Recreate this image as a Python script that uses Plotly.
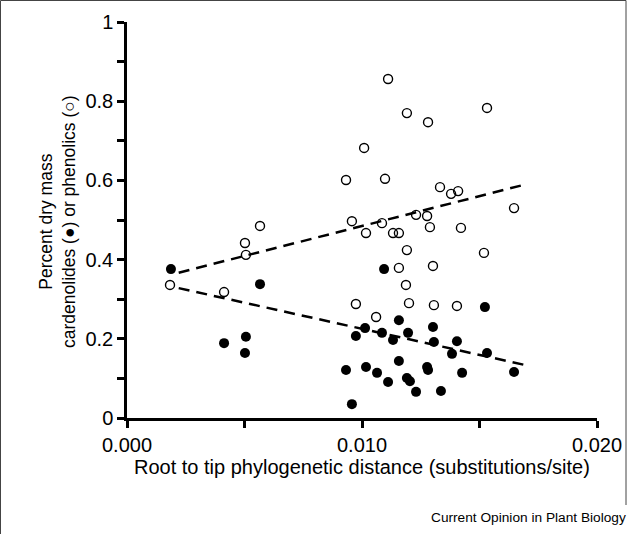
import plotly.graph_objects as go

# Phenolics (open circles)
phen_x = [0.00183, 0.00413, 0.00502, 0.00506, 0.00566, 0.00932, 0.00957, 0.00974, 0.01009,
          0.01017, 0.0106, 0.01085, 0.01098, 0.01111, 0.01132, 0.01157, 0.01157, 0.01191,
          0.01187, 0.01191, 0.0120, 0.0123, 0.01277, 0.01281, 0.01289, 0.01302, 0.01306,
          0.01332, 0.01379, 0.01409, 0.01404, 0.01421, 0.01519, 0.01532, 0.01647]
phen_y = [0.336, 0.318, 0.442, 0.412, 0.485, 0.601, 0.497, 0.288, 0.682,
          0.467, 0.255, 0.492, 0.604, 0.856, 0.467, 0.467, 0.379, 0.424,
          0.336, 0.770, 0.290, 0.513, 0.510, 0.747, 0.482, 0.384, 0.285,
          0.583, 0.566, 0.573, 0.283, 0.480, 0.417, 0.783, 0.530]

# Cardenolides (filled circles)
card_x = [0.00187, 0.00413, 0.00506, 0.00502, 0.00566, 0.00932, 0.00957, 0.00974, 0.01013,
          0.01017, 0.01064, 0.01094, 0.01085, 0.01111, 0.01132, 0.01157, 0.01157, 0.01191,
          0.01204, 0.01196, 0.0123, 0.01277, 0.01281, 0.01302, 0.01306, 0.01336, 0.01383,
          0.01404, 0.01426, 0.01523, 0.01532, 0.01647]
card_y = [0.376, 0.189, 0.205, 0.164, 0.338, 0.121, 0.035, 0.207, 0.227,
          0.129, 0.114, 0.376, 0.215, 0.091, 0.197, 0.247, 0.144, 0.101,
          0.093, 0.215, 0.066, 0.129, 0.121, 0.230, 0.192, 0.068, 0.162,
          0.194, 0.114, 0.280, 0.164, 0.116]

# Fitted trend lines (endpoints)
phen_fit_x = [0.0022, 0.0169]
phen_fit_y = [0.367, 0.589]
card_fit_x = [0.0022, 0.01715]
card_fit_y = [0.328, 0.131]

x_ticks = [0.0, 0.01, 0.02]
x_ticklabels = ["0.000", "0.010", "0.020"]

FONT = "Arial, 'Liberation Sans', sans-serif"

fig = go.Figure()
fig.add_trace(go.Scatter(x=phen_fit_x, y=phen_fit_y, mode="lines",
                         line=dict(color="black", width=2.5, dash="11px,7px"),
                         showlegend=False, hoverinfo="skip"))
fig.add_trace(go.Scatter(x=card_fit_x, y=card_fit_y, mode="lines",
                         line=dict(color="black", width=2.5, dash="11px,7px"),
                         showlegend=False, hoverinfo="skip"))
fig.add_trace(go.Scatter(x=phen_x, y=phen_y, mode="markers",
                         marker=dict(symbol="circle-open", size=9, color="black",
                                     line=dict(width=1.4, color="black")),
                         showlegend=False))
fig.add_trace(go.Scatter(x=card_x, y=card_y, mode="markers",
                         marker=dict(symbol="circle", size=10, color="black"),
                         showlegend=False))

# plot area geometry in pixels
L, R, T, B = 127, 597, 22, 418
W, H = 638, 534
pw, ph = R - L, B - T

def px2x(px):
    return (px - L) / pw

def py2y(py):
    return (B - py) / ph

fig.update_layout(
    width=W, height=H,
    margin=dict(l=L, r=W - R, t=T, b=H - B),
    plot_bgcolor="white", paper_bgcolor="white",
    font=dict(family=FONT, color="black", size=20),
    xaxis=dict(range=[0, 0.02], tickvals=x_ticks, ticktext=x_ticklabels,
               showline=True, linecolor="black", linewidth=2.5,
               ticks="outside", ticklen=7, tickwidth=2.5, tickcolor="black",
               showgrid=False, zeroline=False, tickfont=dict(size=20),
               minor=dict(dtick=0.005, ticks="outside", ticklen=7, tickwidth=2.5,
                          tickcolor="black", showgrid=False)),
    yaxis=dict(range=[0, 1], dtick=0.2, tick0=0,
               showline=True, linecolor="black", linewidth=2.5,
               ticks="outside", ticklen=7, tickwidth=2.5, tickcolor="black",
               showgrid=False, zeroline=False, tickfont=dict(size=20),
               minor=dict(dtick=0.1, ticks="outside", ticklen=7, tickwidth=2.5,
                          tickcolor="black", showgrid=False)),
    annotations=[
        dict(text="Root to tip phylogenetic distance (substitutions/site)",
             xref="paper", yref="paper", x=px2x(362), y=py2y(467),
             xanchor="center", yanchor="middle", showarrow=False,
             font=dict(size=20)),
        dict(text="Percent dry mass<br>cardenolides (●) or phenolics (○)",
             xref="paper", yref="paper", x=px2x(58), y=py2y(222),
             xanchor="center", yanchor="middle", showarrow=False, textangle=-90,
             font=dict(size=17.5)),
        dict(text="Current Opinion in Plant Biology",
             xref="paper", yref="paper", x=px2x(628), y=py2y(517),
             xanchor="right", yanchor="middle", showarrow=False,
             font=dict(size=13.7)),
    ],
    shapes=[
        dict(type="path", xref="paper", yref="paper",
             path=f"M {px2x(0.5)} {py2y(534)} L {px2x(0.5)} {py2y(0.5)} L {px2x(626)} {py2y(0.5)} L {px2x(626)} {py2y(505)}",
             line=dict(color="#444", width=1)),
    ],
)

fig.write_html("out.html", config={"displayModeBar": False},
               post_script="document.body.style.margin='0';document.body.style.overflow='hidden';")
